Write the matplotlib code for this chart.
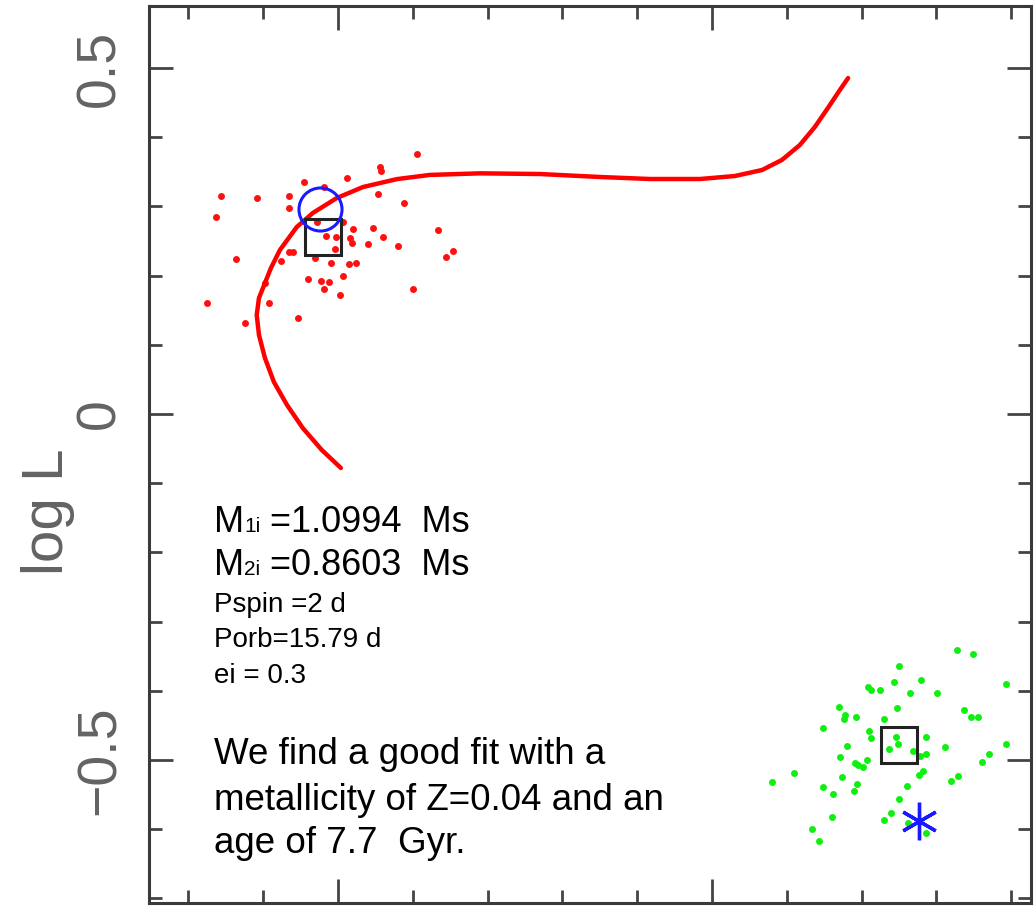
import matplotlib
matplotlib.use("Agg")
import matplotlib.pyplot as plt
from matplotlib.ticker import MultipleLocator, FixedLocator, NullFormatter

# Evolutionary track of the primary (log Teff, log L)
track_logteff = [3.7992, 3.8043, 3.8094, 3.8136, 3.8171, 3.8195, 3.8211, 3.8217,
                 3.8211, 3.8195, 3.8179, 3.8155, 3.8110, 3.8067, 3.8003, 3.7933,
                 3.7842, 3.7754, 3.7620, 3.7460, 3.7299, 3.7166, 3.7032, 3.6939,
                 3.6866, 3.6813, 3.6765, 3.6725, 3.6690, 3.6658, 3.6636]
track_logl = [-0.0780, -0.0520, -0.0202, 0.0130, 0.0462, 0.0809, 0.1142, 0.1431,
              0.1676, 0.1893, 0.2110, 0.2370, 0.2702, 0.2905, 0.3121, 0.3280,
              0.3395, 0.3455, 0.3478, 0.3468, 0.3425, 0.3396, 0.3396, 0.3439,
              0.3526, 0.3671, 0.3887, 0.4147, 0.4422, 0.4682, 0.4855]

# Monte-Carlo realisations of the primary's observed position
primary_logteff = [3.7789, 3.7888, 3.7885, 3.7976, 3.8091, 3.8037, 3.7893, 3.8313,
                   3.8217, 3.8131, 3.7824, 3.8131, 3.8326, 3.8056, 3.7987, 3.7960,
                   3.7906, 3.7880, 3.8032, 3.8005, 3.7968, 3.7963, 3.7920, 3.7840,
                   3.7733, 3.7693, 3.7711, 3.8008, 3.8131, 3.8120, 3.8061, 3.8273,
                   3.8019, 3.7971, 3.7952, 3.8152, 3.7987, 3.8080, 3.8045, 3.8024,
                   3.8037, 3.7995, 3.7799, 3.8195, 3.8184, 3.8350, 3.8249, 3.8107]
primary_logl = [0.3757, 0.3569, 0.3512, 0.3410, 0.3353, 0.3280, 0.3179, 0.3150,
                0.3121, 0.3150, 0.3049, 0.2977, 0.2847, 0.2775, 0.2775, 0.2673,
                0.2688, 0.2558, 0.2572, 0.2558, 0.2543, 0.2471, 0.2457, 0.2428,
                0.2659, 0.2355, 0.2269, 0.2384, 0.2341, 0.2341, 0.2254, 0.2240,
                0.2182, 0.2168, 0.2182, 0.2211, 0.1994, 0.1951, 0.1922, 0.1908,
                0.1806, 0.1720, 0.1806, 0.1893, 0.1604, 0.1604, 0.1315, 0.1387]

# Monte-Carlo realisations of the secondary's observed position
secondary_logteff = [3.6345, 3.6302, 3.6500, 3.6214, 3.6513, 3.6441, 3.6583, 3.6575,
                     3.6551, 3.6471, 3.6398, 3.6660, 3.6505, 3.6326, 3.6307, 3.6289,
                     3.6644, 3.6647, 3.6615, 3.6540, 3.6703, 3.6580, 3.6575, 3.6508,
                     3.6503, 3.6527, 3.6428, 3.6377, 3.6639, 3.6463, 3.6428, 3.6444,
                     3.6214, 3.6259, 3.6278, 3.6658, 3.6618, 3.6610, 3.6596, 3.6586,
                     3.6436, 3.6447, 3.6342, 3.6361, 3.6781, 3.6840, 3.6652, 3.6703,
                     3.6676, 3.6612, 3.6620, 3.6479, 3.6500, 3.6679, 3.6521, 3.6540,
                     3.6733, 3.6714, 3.6476, 3.6428]
secondary_logl = [-0.3410, -0.3468, -0.3642, -0.3902, -0.3873, -0.3844, -0.3945, -0.3988,
                  -0.3988, -0.4032, -0.4032, -0.4234, -0.4249, -0.4277, -0.4379, -0.4379,
                  -0.4350, -0.4408, -0.4379, -0.4408, -0.4538, -0.4581, -0.4682, -0.4668,
                  -0.4769, -0.4841, -0.4668, -0.4812, -0.4798, -0.4870, -0.4913, -0.4942,
                  -0.4769, -0.4913, -0.5029, -0.4957, -0.5043, -0.5072, -0.5101, -0.5000,
                  -0.5159, -0.5217, -0.5231, -0.5303, -0.5188, -0.5318, -0.5246, -0.5390,
                  -0.5491, -0.5347, -0.5448, -0.5376, -0.5564, -0.5824, -0.5766, -0.5867,
                  -0.5997, -0.6171, -0.5910, -0.6055]

# Observed positions (squares) and model positions at the best-fit age
obs_logteff = [3.8039, 3.6501]
obs_logl = [0.2565, -0.4776]
model1_logteff, model1_logl = 3.8048, 0.2962
model2_logteff, model2_logl = 3.6446, -0.5882

ytick_values = [-0.5, 0.0, 0.5]
ytick_labels = ["\u22120.5", "0", "0.5"]
xmajor_ticks = [3.80, 3.70]

W, H = 1036, 907
fig = plt.figure(figsize=(W / 100, H / 100), dpi=100)
ax = fig.add_axes([149 / W, 4 / H, 882 / W, 897 / H])

ax.plot(track_logteff, track_logl, color="#ff0000", lw=3.2,
        solid_joinstyle="round", solid_capstyle="round", zorder=3)
ax.plot(primary_logteff, primary_logl, "o", color="#ff1010", ms=5, mew=0, zorder=2)
ax.plot(secondary_logteff, secondary_logl, "o", color="#10f010", ms=5, mew=0, zorder=2)
ax.plot(obs_logteff, obs_logl, "s", ms=26, mfc="none", mec="#222222", mew=2.2, zorder=4)
ax.plot(model1_logteff, model1_logl, "o", ms=31, mfc="none", mec="#1a1aff", mew=2.2, zorder=5)
ax.plot(model2_logteff, model2_logl, marker=(6, 2, 0), ms=27, mec="#1a1aff", mew=2.4,
        ls="none", zorder=5)

ax.set_xlim(3.8505, 3.6147)
ax.set_ylim(-0.7066, 0.5896)

ax.xaxis.set_major_locator(FixedLocator(xmajor_ticks))
ax.xaxis.set_minor_locator(MultipleLocator(0.02))
ax.xaxis.set_major_formatter(NullFormatter())
ax.yaxis.set_major_locator(FixedLocator(ytick_values))
ax.yaxis.set_minor_locator(MultipleLocator(0.1))
ax.set_yticklabels(ytick_labels, rotation=90, va="center",
                   fontsize=40, color="#636363", family="Liberation Sans")

tick_color = "#444444"
ax.tick_params(which="both", direction="in", top=True, right=True,
               color=tick_color, width=2.0)
ax.tick_params(which="major", length=17)
ax.tick_params(which="minor", length=9.5)
ax.tick_params(axis="y", which="major", pad=16)
for sp in ax.spines.values():
    sp.set_linewidth(2.2)
    sp.set_color("#3a3a3a")

fig.text(48 / W, 1 - 512 / H, "log L", rotation=90, ha="center", va="center",
         fontsize=42, color="#636363", family="Liberation Sans")

# Annotations: run of text pieces sharing one baseline
DESC = 0.21


def text_run(x, y, parts):
    prev, prev_size = None, None
    for txt, size in parts:
        if prev is None:
            prev = ax.text(x, y, txt, transform=ax.transAxes, fontsize=size,
                           va="baseline", ha="left", family="Liberation Sans",
                           color="black")
        else:
            prev = ax.annotate(txt, xy=(1, 0), xycoords=prev,
                               xytext=(0, DESC * prev_size), textcoords="offset points",
                               va="baseline", ha="left", fontsize=size,
                               family="Liberation Sans", color="black")
        prev_size = size


def fx(px):
    return (px - 149) / 882


def fy(py):
    return (903 - py) / 897


BIG, SUB, SMALL, NOTE = 26, 15, 20, 26.5
text_run(fx(214), fy(532), [("M", BIG), ("1i", SUB), (" =1.0994  Ms", BIG)])
text_run(fx(214), fy(575), [("M", BIG), ("2i", SUB), (" =0.8603  Ms", BIG)])
text_run(fx(214), fy(612), [("Pspin =2 d", SMALL)])
text_run(fx(214), fy(647), [("Porb=15.79 d", SMALL)])
text_run(fx(214), fy(683), [("ei = 0.3", SMALL)])
text_run(fx(214), fy(764), [("We find a good fit with a", NOTE)])
text_run(fx(214), fy(810), [("metallicity of Z=0.04 and an", NOTE)])
text_run(fx(214), fy(853), [("age of 7.7  Gyr.", NOTE)])

fig.savefig("out.png", dpi=100)
